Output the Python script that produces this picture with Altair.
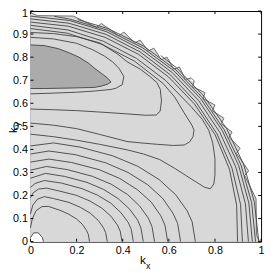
import altair as alt
import pandas as pd

X_TICKS = [0, 0.2, 0.4, 0.6, 0.8, 1]
Y_TICKS = [0, 0.1, 0.2, 0.3, 0.4, 0.5, 0.6, 0.7, 0.8, 0.9, 1]

# jagged edge of the computed region (upper half: ordered by kx; lower half: ordered by ky)
EDGE_TOP = [(0.000, 0.993), (0.030, 0.980), (0.186, 0.978), (0.287, 0.929), (0.307, 0.946),
            (0.383, 0.893), (0.405, 0.909), (0.452, 0.861), (0.475, 0.874), (0.511, 0.827),
            (0.535, 0.839), (0.567, 0.789), (0.592, 0.800), (0.621, 0.748), (0.646, 0.757),
            (0.672, 0.703), (0.697, 0.710)]
EDGE_RIGHT = [(0.993, 0.000), (0.980, 0.030), (0.978, 0.186), (0.929, 0.287), (0.946, 0.307),
              (0.893, 0.383), (0.909, 0.405), (0.861, 0.452), (0.874, 0.475), (0.827, 0.511),
              (0.839, 0.535), (0.789, 0.567), (0.800, 0.592), (0.748, 0.621), (0.757, 0.646),
              (0.703, 0.672), (0.710, 0.697)]

# dark (highest) region
BLOB_X = [0.0, 0.06, 0.12, 0.17, 0.21, 0.25, 0.28, 0.31, 0.335, 0.349]
BLOB_TOP = [0.853, 0.850, 0.837, 0.818, 0.800, 0.775, 0.750, 0.728, 0.709, 0.692]
BLOB_BOT = [0.664, 0.664, 0.665, 0.666, 0.667, 0.668, 0.669, 0.675, 0.683, 0.692]

# white (lowest) region at the origin
HOLE = [(0.0, 0.017), (0.014, 0.038), (0.034, 0.038), (0.052, 0.017), (0.056, 0.0)]

# contour lines around the maximum
A2 = [(0, 0.886), (0.1, 0.879), (0.2, 0.860), (0.27, 0.832), (0.32, 0.805), (0.356, 0.780),
      (0.385, 0.750), (0.405, 0.716), (0.398, 0.681), (0.37, 0.665), (0.349, 0.660),
      (0.278, 0.653), (0.2, 0.648), (0.1, 0.644), (0, 0.641)]
A3 = [(0, 0.907), (0.1, 0.902), (0.2, 0.889), (0.3, 0.862), (0.38, 0.812), (0.419, 0.780),
      (0.476, 0.748), (0.518, 0.716), (0.548, 0.690), (0.563, 0.660), (0.568, 0.610),
      (0.562, 0.565), (0.545, 0.549), (0.5, 0.548), (0.419, 0.554), (0.3, 0.562),
      (0.2, 0.568), (0.1, 0.572), (0, 0.575)]
A4 = [(0, 0.924), (0.159, 0.904), (0.311, 0.855), (0.452, 0.782), (0.575, 0.686),
      (0.626, 0.626), (0.666, 0.559), (0.700, 0.505), (0.709, 0.483), (0.705, 0.455),
      (0.690, 0.432), (0.667, 0.419), (0.62, 0.417), (0.55, 0.422), (0.48, 0.428),
      (0.419, 0.434), (0.3, 0.465), (0.2, 0.490), (0.1, 0.505), (0, 0.514)]
A5 = [(0, 0.938), (0.162, 0.918), (0.316, 0.869), (0.459, 0.795), (0.586, 0.699),
      (0.697, 0.585), (0.745, 0.530), (0.773, 0.483), (0.790, 0.430), (0.800, 0.360),
      (0.800, 0.290), (0.795, 0.250), (0.780, 0.229), (0.755, 0.236), (0.70, 0.270),
      (0.63, 0.315), (0.56, 0.356), (0.49, 0.380), (0.419, 0.398), (0.3, 0.422),
      (0.2, 0.440), (0.1, 0.455), (0, 0.466)]

# contour lines along the edge
R1 = [(0, 0.952), (0.165, 0.934), (0.323, 0.886), (0.469, 0.812), (0.599, 0.714),
      (0.711, 0.597), (0.801, 0.463), (0.863, 0.314), (0.894, 0.158), (0.898, 0.0)]
R2 = [(0, 0.966), (0.167, 0.947), (0.327, 0.899), (0.475, 0.823), (0.607, 0.723),
      (0.719, 0.603), (0.809, 0.467), (0.874, 0.318), (0.911, 0.161), (0.919, 0.0)]
R3 = [(0, 0.978), (0.169, 0.959), (0.331, 0.910), (0.481, 0.833), (0.615, 0.733),
      (0.729, 0.612), (0.821, 0.474), (0.890, 0.324), (0.932, 0.164), (0.945, 0.0)]
R4 = [(0.103, 0.977), (0.170, 0.965), (0.334, 0.917), (0.486, 0.841), (0.622, 0.741),
      (0.738, 0.620), (0.832, 0.481), (0.903, 0.329), (0.947, 0.167), (0.962, 0.0)]
R5 = [(0.205, 0.963), (0.336, 0.924), (0.490, 0.848), (0.627, 0.748), (0.745, 0.625),
      (0.840, 0.485), (0.913, 0.332), (0.959, 0.169), (0.976, 0.0)]
R6 = [(0.565, 0.807), (0.633, 0.754), (0.752, 0.631), (0.850, 0.491), (0.924, 0.336),
      (0.971, 0.171), (0.990, 0.0)]

# contour lines around the origin
O1 = [(0, 0.415), (0.1, 0.428), (0.215, 0.410), (0.357, 0.372), (0.465, 0.327), (0.558, 0.269),
      (0.629, 0.204), (0.679, 0.134), (0.701, 0.086), (0.715, 0.0)]
O2 = [(0, 0.380), (0.08, 0.393), (0.195, 0.377), (0.326, 0.342), (0.423, 0.300), (0.508, 0.247),
      (0.573, 0.188), (0.618, 0.123), (0.638, 0.079), (0.651, 0.0)]
O3 = [(0, 0.345), (0.08, 0.358), (0.179, 0.343), (0.298, 0.312), (0.387, 0.274), (0.464, 0.225),
      (0.524, 0.171), (0.565, 0.112), (0.583, 0.072), (0.595, 0.0)]
O4 = [(0, 0.310), (0.07, 0.326), (0.161, 0.312), (0.269, 0.283), (0.350, 0.249), (0.420, 0.205),
      (0.473, 0.155), (0.511, 0.102), (0.527, 0.065), (0.538, 0.0)]
O5 = [(0, 0.275), (0.065, 0.296), (0.147, 0.283), (0.245, 0.257), (0.318, 0.226), (0.381, 0.186),
      (0.430, 0.141), (0.465, 0.093), (0.479, 0.059), (0.489, 0.0)]
O6 = [(0, 0.235), (0.02, 0.252), (0.06, 0.265), (0.134, 0.254), (0.223, 0.230), (0.290, 0.202),
      (0.348, 0.167), (0.392, 0.126), (0.424, 0.083), (0.437, 0.053), (0.446, 0.0)]
O7 = [(0, 0.190), (0.012, 0.212), (0.035, 0.228), (0.07, 0.232), (0.119, 0.221), (0.199, 0.201),
      (0.258, 0.176), (0.310, 0.145), (0.349, 0.110), (0.377, 0.072), (0.389, 0.046), (0.397, 0.0)]
O8 = [(0, 0.120), (0.01, 0.158), (0.03, 0.184), (0.06, 0.195), (0.10, 0.187), (0.167, 0.170),
      (0.216, 0.149), (0.260, 0.123), (0.293, 0.093), (0.316, 0.061), (0.326, 0.039), (0.333, 0.0)]
O9 = [(0, 0.060), (0.008, 0.100), (0.025, 0.135), (0.05, 0.152), (0.077, 0.153), (0.128, 0.136),
      (0.166, 0.119), (0.200, 0.098), (0.225, 0.075), (0.243, 0.049), (0.251, 0.031), (0.256, 0.0)]

LIGHT = "#d8d8d8"
DARK = "#ababab"
LINE = "#404040"

xs = alt.Scale(domain=[0, 1], nice=False, zero=False, padding=0)
ys = alt.Scale(domain=[0, 1], nice=False, zero=False, padding=0)
ax_common = dict(title=None, domain=False, ticks=False, grid=False, labelFont="Liberation Sans",
                 labelFontSize=11, labelColor="#000", labelPadding=3, labelFlush=False,
                 labelOverlap=False, format=".1~f")
xaxis = alt.Axis(values=X_TICKS, **ax_common)
yaxis = alt.Axis(values=Y_TICKS,
                 labelOffset={"condition": {"test": "datum.value == 1", "value": 3}, "value": 0},
                 **ax_common)


def X(field):
    return alt.X(field, scale=xs, axis=xaxis)


def Y(field):
    return alt.Y(field, scale=ys, axis=yaxis)


df_top = pd.DataFrame({"kx": [p[0] for p in EDGE_TOP], "ky": [p[1] for p in EDGE_TOP], "base": 0.0})
df_right = pd.DataFrame({"kx": [p[0] for p in EDGE_RIGHT], "ky": [p[1] for p in EDGE_RIGHT], "base": 0.0})
df_blob = pd.DataFrame({"kx": BLOB_X, "ky": BLOB_TOP, "bot": BLOB_BOT})
df_hole = pd.DataFrame({"kx": [p[0] for p in HOLE], "ky": [p[1] for p in HOLE], "base": 0.0})

blob_outline = list(zip(BLOB_X, BLOB_TOP)) + list(zip(BLOB_X, BLOB_BOT))[::-1]
edge_outline = EDGE_TOP + EDGE_RIGHT[::-1]

rows = []
for cid, pts in [("blob", blob_outline), ("A2", A2), ("A3", A3), ("A4", A4), ("A5", A5),
                 ("R1", R1), ("R2", R2), ("R3", R3), ("R4", R4), ("R5", R5), ("R6", R6),
                 ("O1", O1), ("O2", O2), ("O3", O3), ("O4", O4), ("O5", O5), ("O6", O6),
                 ("O7", O7), ("O8", O8), ("O9", O9), ("hole", HOLE)]:
    for i, (x, y) in enumerate(pts):
        rows.append({"cid": cid, "i": i, "kx": x, "ky": y})
df_lines = pd.DataFrame(rows)
df_edge = pd.DataFrame([{"i": i, "kx": x, "ky": y} for i, (x, y) in enumerate(edge_outline)])

area_top = alt.Chart(df_top).mark_area(color=LIGHT, orient="vertical").encode(
    x=X("kx:Q"), y=Y("ky:Q"), y2="base:Q")
area_right = alt.Chart(df_right).mark_area(color=LIGHT, orient="horizontal").encode(
    x=X("kx:Q"), x2="base:Q", y=Y("ky:Q"))
area_blob = alt.Chart(df_blob).mark_area(color=DARK, orient="vertical").encode(
    x=X("kx:Q"), y=Y("ky:Q"), y2="bot:Q")
area_hole = alt.Chart(df_hole).mark_area(color="#ffffff", orient="vertical").encode(
    x=X("kx:Q"), y=Y("ky:Q"), y2="base:Q")
edge = alt.Chart(df_edge).mark_line(color="#6a6a6a", strokeWidth=1).encode(
    x=X("kx:Q"), y=Y("ky:Q"), order="i:Q")
lines = alt.Chart(df_lines).mark_line(color=LINE, strokeWidth=0.9).encode(
    x=X("kx:Q"), y=Y("ky:Q"), detail="cid:N", order="i:Q")

dfx = pd.DataFrame({"kx": X_TICKS})
dfy = pd.DataFrame({"ky": Y_TICKS})
tick_b = alt.Chart(dfx).mark_rule(color="#000").encode(
    x=X("kx:Q"), y=alt.value(236), y2=alt.value(233))
tick_t = alt.Chart(dfx).mark_rule(color="#000").encode(
    x=X("kx:Q"), y=alt.value(0), y2=alt.value(3))
tick_l = alt.Chart(dfy).mark_rule(color="#000").encode(
    y=Y("ky:Q"), x=alt.value(0), x2=alt.value(3))
tick_r = alt.Chart(dfy).mark_rule(color="#000").encode(
    y=Y("ky:Q"), x=alt.value(236), x2=alt.value(233))

one = pd.DataFrame({"a": [0]})
tx_k = alt.Chart(one).mark_text(font="Liberation Sans", fontSize=12, color="#000",
                                align="center", baseline="alphabetic").encode(
    x=alt.value(115), y=alt.value(259), text=alt.value("k"))
tx_sub = alt.Chart(one).mark_text(font="Liberation Sans", fontSize=9, color="#000",
                                  align="center", baseline="alphabetic").encode(
    x=alt.value(120.5), y=alt.value(264), text=alt.value("x"))
ty_k = alt.Chart(one).mark_text(font="Liberation Sans", fontSize=11, color="#000", angle=270,
                                align="center", baseline="alphabetic").encode(
    x=alt.value(-13.5), y=alt.value(122), text=alt.value("k"))
ty_sub = alt.Chart(one).mark_text(font="Liberation Sans", fontSize=9, color="#000", angle=270,
                                  align="center", baseline="alphabetic").encode(
    x=alt.value(-10.5), y=alt.value(116), text=alt.value("y"))

chart = alt.layer(area_top, area_right, area_blob, area_hole, edge, lines,
                  tick_b, tick_t, tick_l, tick_r, tx_k, tx_sub, ty_k, ty_sub).properties(
    width=236, height=236,
    autosize=alt.AutoSizeParams(type="none"),
    padding={"left": 23, "top": 0, "right": 4, "bottom": 29},
).configure_view(stroke="#000", strokeWidth=1)

chart.save("out.html", embed_options={"renderer": "svg", "actions": False})
